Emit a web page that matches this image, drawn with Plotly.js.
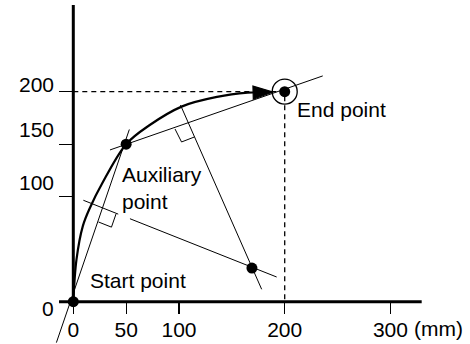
<!DOCTYPE html>
<html>
<head>
<meta charset="utf-8">
<script src="https://cdn.plot.ly/plotly-3.0.1.min.js"></script>
<style>html,body{margin:0;padding:0;background:#fff;}#chart{width:470px;height:344px;}</style>
</head>
<body>
<div id="chart"></div>
<script>
// ---- data (units: mm) ----
const pointNames = ['Start point', 'Auxiliary point', 'End point', 'Center'];
const pointX = [0, 50, 200, 169];
const pointY = [0, 150, 200, 32];

// commanded arc (start -> auxiliary -> end)
const arcX = [0, 3, 9, 16, 27, 50, 72, 103, 136, 165, 189];
const arcY = [0, 40, 72, 90, 112, 150, 168, 186, 195, 199, 199.7];

// chord start -> auxiliary, extended
const chordAX = [-16, 53];
const chordAY = [-39, 164];
// chord auxiliary -> end, extended
const chordBX = [34.7, 236];
const chordBY = [144.5, 215];
// perpendicular bisectors
const bisect1X = [9.5, 42.5, null, 53.6, 192.4];
const bisect1Y = [96.6, 83.4, null, 79.0, 23.5];
const bisect2X = [101.4, 178.2];
const bisect2Y = [187.3, 11.8];
// right-angle marks
const mark1X = [23.8, 36.1, 40.4];
const mark1Y = [75.9, 71.0, 83.5];
const mark2X = [96.2, 102.4, 114.7];
const mark2Y = [164.5, 152.1, 156.9];
// dashed guides to the end point
const guideX = [0, 200, 200];
const guideY = [200, 200, 0];
// axis lines
const xAxisLineX = [-13.5, 329.6];
const yAxisLineY = [0, 282.6];

// ticks
const xTickVals = [0, 50, 100, 200, 300];
const xTickText = ['0', '50', '100', '200', '300'];
const xUnit = '(mm)';
const yTickVals = [0, 100, 150, 200];
const yTickText = ['0', '100', '150', '200'];

// ---- styles ----
const FONT = 'Liberation Sans, Arial, sans-serif';
const FS = 21;
const yLabelShift = [-7, 14, 15, 7];

function line(x, y, w, extra) {
  return Object.assign({x: x, y: y, type: 'scatter', mode: 'lines', hoverinfo: 'skip',
    line: {color: '#000', width: w}}, extra || {});
}

const traces = [
  line(guideX, guideY, 1.3, {line: {color: '#000', width: 1.3, dash: '5px,4px'}}),
  line(chordAX, chordAY, 1),
  line(chordBX, chordBY, 1),
  line(bisect1X, bisect1Y, 1, {connectgaps: false}),
  line(bisect2X, bisect2Y, 1),
  line(mark1X, mark1Y, 1),
  line(mark2X, mark2Y, 1),
  line(xAxisLineX, [0, 0], 3),
  line([0, 0], yAxisLineY, 3),
  // arc with arrow head at its end
  {x: arcX, y: arcY, type: 'scatter', mode: 'lines+markers', hoverinfo: 'skip',
   line: {color: '#000', width: 2.2, shape: 'spline', smoothing: 1},
   marker: {symbol: 'arrow', angleref: 'previous', color: '#000', opacity: 1,
            size: arcX.map((v, i) => i === arcX.length - 1 ? 21 : 0),
            line: {width: 1.2, color: '#000'}}},
  // points
  {x: pointX, y: pointY, type: 'scatter', mode: 'markers', text: pointNames, hoverinfo: 'text',
   cliponaxis: false, marker: {color: '#000', size: 11}},
  // ring around end point
  {x: [pointX[2]], y: [pointY[2]], type: 'scatter', mode: 'markers', hoverinfo: 'skip',
   marker: {symbol: 'circle-open', color: '#000', size: 25, line: {width: 1.3, color: '#000'}}}
];

const annotations = [];
yTickVals.forEach((v, i) => {
  annotations.push({x: 0, y: v, xref: 'x', yref: 'y', text: yTickText[i], showarrow: false,
    xanchor: 'right', yanchor: 'middle', xshift: -17, yshift: yLabelShift[i],
    font: {family: FONT, size: FS, color: '#000'}});
});
annotations.push({x: xTickVals[xTickVals.length - 1], y: 0, xref: 'x', yref: 'y', text: xUnit,
  showarrow: false, xanchor: 'left', yanchor: 'middle', xshift: 22, yshift: -27,
  font: {family: FONT, size: FS, color: '#000'}});
annotations.push({x: pointX[2], y: pointY[2], xref: 'x', yref: 'y', text: 'End point', showarrow: false,
  xanchor: 'left', yanchor: 'middle', xshift: 10, yshift: -18, font: {family: FONT, size: FS, color: '#000'}});
annotations.push({x: pointX[1], y: pointY[1], xref: 'x', yref: 'y', text: 'Auxiliary<br>point', showarrow: false,
  align: 'left', xanchor: 'left', yanchor: 'middle', xshift: -6, yshift: -44, font: {family: FONT, size: FS, color: '#000'}});
annotations.push({x: pointX[0], y: pointY[0], xref: 'x', yref: 'y', text: 'Start point', showarrow: false,
  xanchor: 'left', yanchor: 'middle', xshift: 15, yshift: 21, font: {family: FONT, size: FS, color: '#000'}});

const layout = {
  width: 470, height: 344,
  margin: {l: 0, r: 0, t: 0, b: 0, pad: 0},
  paper_bgcolor: '#fff', plot_bgcolor: '#fff',
  showlegend: false,
  font: {family: FONT, size: FS, color: '#000'},
  xaxis: {range: [-69.35, 375.3], anchor: 'free', position: 0.123, showgrid: false, zeroline: false,
    showline: false, ticks: 'outside', ticklen: 11, tickwidth: 1.3, tickcolor: '#000',
    tickmode: 'array', tickvals: xTickVals, ticktext: xTickText, ticklabelstandoff: -2,
    tickfont: {family: FONT, size: FS, color: '#000'}, fixedrange: true},
  yaxis: {range: [-40.3, 287.3], anchor: 'free', position: 0.156, showgrid: false, zeroline: false,
    showline: false, ticks: 'outside', ticklen: 14, tickwidth: 1.3, tickcolor: '#000',
    tickmode: 'array', tickvals: yTickVals, showticklabels: false, fixedrange: true},
  annotations: annotations
};

Plotly.newPlot('chart', traces, layout, {staticPlot: true, displayModeBar: false});
</script>
</body>
</html>
